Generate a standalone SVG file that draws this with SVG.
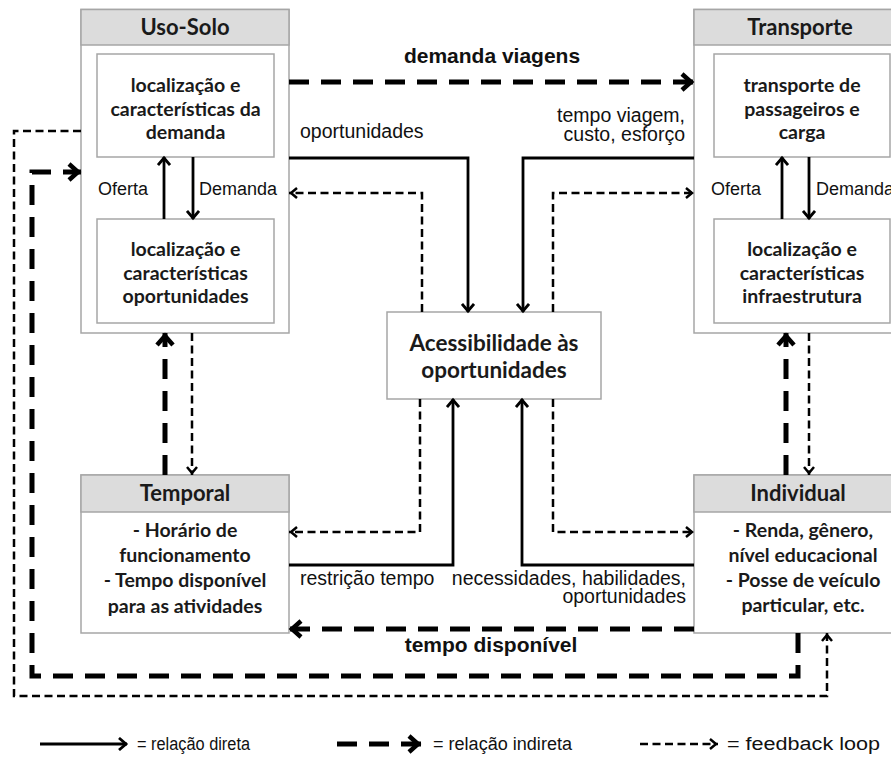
<svg xmlns="http://www.w3.org/2000/svg" width="891" height="758" viewBox="0 0 891 758">
  <style>
    .outer { fill: #ffffff; stroke: #a6a6a6; stroke-width: 1.5; }
    .head { fill: #dcdcdc; stroke: #a6a6a6; stroke-width: 1.5; }
    .inner { fill: #ffffff; stroke: #a6a6a6; stroke-width: 1.5; }
    .bx { font-family: Lato, "Open Sans", sans-serif; font-weight: bold; font-size: 19.5px; fill: #1a1a1a; text-anchor: middle; }
    .hd { font-family: Lato, "Open Sans", sans-serif; font-weight: bold; font-size: 22px; fill: #1a1a1a; text-anchor: middle; }
    .lbl { font-family: "Liberation Sans", Arial, sans-serif; font-size: 19.5px; fill: #111; }
    .side { font-family: "Liberation Sans", Arial, sans-serif; font-size: 18px; fill: #111; }
    .blbl { font-family: "Liberation Sans", Arial, sans-serif; font-size: 21px; font-weight: bold; fill: #111; text-anchor: middle; }
    .leg { font-family: "Liberation Sans", Arial, sans-serif; font-size: 18px; fill: #111; }
    .direct { fill: none; stroke: #000; stroke-width: 2.8; marker-end: url(#ah-direct); }
    .indirect { fill: none; stroke: #000; stroke-width: 5; stroke-dasharray: 20 12; marker-end: url(#ah-indirect); }
    .feedback { fill: none; stroke: #000; stroke-width: 2.5; stroke-dasharray: 8 4.5; marker-end: url(#ah-feedback); }
  </style>
  <defs>
    <marker id="ah-direct" markerUnits="userSpaceOnUse" viewBox="0 0 14 14" refX="12" refY="7" markerWidth="14" markerHeight="14" orient="auto">
      <path d="M4,1 L11,7 L4,13" fill="none" stroke="#000" stroke-width="2.8"/>
    </marker>
    <marker id="ah-indirect" markerUnits="userSpaceOnUse" viewBox="0 0 22 22" refX="19" refY="11" markerWidth="22" markerHeight="22" orient="auto">
      <path d="M7,3 L16,11 L7,19" fill="none" stroke="#000" stroke-width="4.5"/>
    </marker>
    <marker id="ah-feedback" markerUnits="userSpaceOnUse" viewBox="0 0 14 14" refX="12" refY="7" markerWidth="14" markerHeight="14" orient="auto">
      <path d="M4,2 L10,7 L4,12" fill="none" stroke="#000" stroke-width="2.5"/>
    </marker>
  </defs>

  <rect width="891" height="758" fill="#ffffff"/>

  <!-- Land use subsystem -->
  <g id="uso-solo">
    <rect class="outer" x="81" y="9.5" width="208" height="323.5"/>
    <rect class="head" x="81" y="9.5" width="208" height="35.5"/>
    <text class="hd" x="185" y="35">Uso-Solo</text>
    <rect class="inner" x="97" y="54" width="177" height="103"/>
    <text class="bx" x="185.5" y="92">localização e</text>
    <text class="bx" x="185.5" y="116">características da</text>
    <text class="bx" x="185.5" y="139">demanda</text>
    <rect class="inner" x="97" y="219" width="177" height="104"/>
    <text class="bx" x="185.5" y="256">localização e</text>
    <text class="bx" x="185.5" y="280">características</text>
    <text class="bx" x="185.5" y="303">oportunidades</text>
  </g>

  <!-- Transport subsystem -->
  <g id="transporte">
    <rect class="outer" x="694" y="9.5" width="220" height="323.5"/>
    <rect class="head" x="694" y="9.5" width="220" height="35.5"/>
    <text class="hd" x="800" y="35">Transporte</text>
    <rect class="inner" x="714" y="54" width="176" height="103"/>
    <text class="bx" x="802" y="92">transporte de</text>
    <text class="bx" x="802" y="116">passageiros e</text>
    <text class="bx" x="802" y="139">carga</text>
    <rect class="inner" x="714" y="219" width="176" height="104"/>
    <text class="bx" x="802" y="256">localização e</text>
    <text class="bx" x="802" y="280">características</text>
    <text class="bx" x="802" y="303">infraestrutura</text>
  </g>

  <!-- Accessibility -->
  <g id="acessibilidade">
    <rect class="inner" x="387" y="312" width="214" height="87"/>
    <text class="bx" x="494" y="351" style="font-size:22.5px">Acessibilidade às</text>
    <text class="bx" x="494" y="378" style="font-size:22.5px">oportunidades</text>
  </g>

  <!-- Temporal component -->
  <g id="temporal">
    <rect class="outer" x="81" y="475" width="208" height="158"/>
    <rect class="head" x="81" y="475" width="208" height="37"/>
    <text class="hd" x="185" y="501">Temporal</text>
    <text class="bx" x="185" y="537">- Horário de</text>
    <text class="bx" x="185" y="562">funcionamento</text>
    <text class="bx" x="185" y="587">- Tempo disponível</text>
    <text class="bx" x="185" y="613">para as atividades</text>
  </g>

  <!-- Individual component -->
  <g id="individual">
    <rect class="outer" x="694" y="475" width="220" height="158"/>
    <rect class="head" x="694" y="475" width="220" height="37"/>
    <text class="hd" x="798" y="501">Individual</text>
    <text class="bx" x="803" y="537">- Renda, gênero,</text>
    <text class="bx" x="803" y="562">nível educacional</text>
    <text class="bx" x="803" y="587">- Posse de veículo</text>
    <text class="bx" x="803" y="612">particular, etc.</text>
  </g>

  <!-- Connectors -->
  <g id="connectors">
    <!-- inside land use -->
    <path class="direct" d="M164,219 V157"/>
    <path class="direct" d="M193,157 V219"/>
    <!-- inside transport -->
    <path class="direct" d="M782,219 V157"/>
    <path class="direct" d="M809,157 V219"/>
    <!-- land use / transport to accessibility -->
    <path class="indirect" d="M289,82 H694"/>
    <path class="direct" d="M289,158 H468 V312"/>
    <path class="direct" d="M694,158 H523 V312"/>
    <path class="feedback" d="M422,312 V193 H289"/>
    <path class="feedback" d="M553,312 V193 H694"/>
    <!-- vertical links -->
    <path class="indirect" d="M165,475 V333"/>
    <path class="feedback" d="M192,333 V475"/>
    <path class="indirect" d="M786,475 V333"/>
    <path class="feedback" d="M809,333 V475"/>
    <!-- temporal / individual to accessibility -->
    <path class="feedback" d="M420,399 V532 H289"/>
    <path class="direct" d="M289,565 H453 V399"/>
    <path class="direct" d="M694,565 H522 V399"/>
    <path class="feedback" d="M553,399 V532 H694"/>
    <path class="indirect" d="M694,629 H289"/>
    <!-- outer loops -->
    <path class="indirect" d="M798,633 V676 H32 V172 H81"/>
    <path class="feedback" d="M81,131 H14 V696 H827 V633"/>
  </g>

  <!-- Connector labels -->
  <g id="labels">
    <text class="blbl" x="492" y="63">demanda viagens</text>
    <text class="lbl" x="300" y="138">oportunidades</text>
    <text class="lbl" text-anchor="end"><tspan x="685" y="122">tempo viagem,</tspan><tspan x="685" y="141">custo, esforço</tspan></text>
    <text class="side" x="148" y="195" text-anchor="end">Oferta</text>
    <text class="side" x="199" y="195">Demanda</text>
    <text class="side" x="761" y="195" text-anchor="end">Oferta</text>
    <text class="side" x="816" y="195">Demanda</text>
    <text class="lbl" x="300" y="585">restrição tempo</text>
    <text class="lbl" text-anchor="end"><tspan x="686" y="585">necessidades, habilidades,</tspan><tspan x="686" y="603">oportunidades</tspan></text>
    <text class="blbl" x="491" y="652">tempo disponível</text>
  </g>

  <!-- Legend -->
  <g id="legend">
    <path class="direct" d="M40,744 H127"/>
    <text class="leg" x="137" y="750" textLength="113" lengthAdjust="spacingAndGlyphs">= relação direta</text>
    <path class="indirect" d="M337,744 H421"/>
    <text class="leg" x="433" y="750" textLength="139" lengthAdjust="spacingAndGlyphs">= relação indireta</text>
    <path class="feedback" d="M640,744 H718"/>
    <text class="leg" x="727" y="750" textLength="153" lengthAdjust="spacingAndGlyphs">=  feedback loop</text>
  </g>
</svg>
